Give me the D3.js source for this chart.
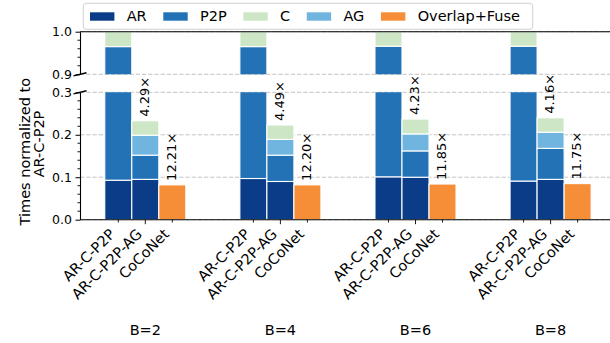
<!DOCTYPE html>
<html><head><meta charset="utf-8">
<script src="https://cdn.jsdelivr.net/npm/d3@7"></script>
<style>body{margin:0;background:#fff} text{font-family:"DejaVu Sans",sans-serif;fill:#000}</style>
</head><body><svg id="c" width="610" height="343"></svg>
<script>
// ---- data ----
const groups = ["B=2", "B=4", "B=6", "B=8"];
const methods = ["AR-C-P2P", "AR-C-P2P-AG", "CoCoNet"];
const legendKeys = ["AR", "P2P", "C", "AG", "Overlap+Fuse"];
const legendColors = ["#0b3c87", "#2272b5", "#cde7c6", "#6fb5df", "#f68e38"];
// AR-C-P2P (baseline) segments
const baseAR  = [0.093, 0.097, 0.101, 0.091];
const baseP2P = [0.872, 0.868, 0.865, 0.875];
const baseC   = [0.035, 0.035, 0.034, 0.034];
// AR-C-P2P-AG segments
const agAR  = [0.095, 0.090, 0.100, 0.095];
const agP2P = [0.057, 0.062, 0.062, 0.073];
const agAG  = [0.047, 0.037, 0.040, 0.038];
const agC   = [0.034, 0.034, 0.035, 0.034];
// CoCoNet
const cocoOF = [0.082, 0.082, 0.084, 0.085];
// speedup annotations
const speedAG   = [4.29, 4.49, 4.23, 4.16];
const speedCoco = [12.21, 12.20, 11.85, 11.75];
const yTicksBottom = [0.0, 0.1, 0.2, 0.3];
const yTicksTop = [0.9, 1.0];

const color = d3.scaleOrdinal().domain(legendKeys).range(legendColors);
const svg = d3.select("#c");

// ---- scales ----
const x = d3.scaleLinear().domain([0, 3]).range([145.3, 550.6]);
const off = 0.2;
const bw = x(0.2) - x(0);
const yB = d3.scaleLinear().domain([0, 0.3]).range([219.7, 92.3]);
const yT = d3.scaleLinear().domain([0.9, 1.0]).range([74.3, 31.7]);
const xL = 80, xR = 620;

// ---- stacks ----
const stacks = [];
groups.forEach((g, i) => {
  const defs = [
    [["AR", baseAR[i]], ["P2P", baseP2P[i]], ["C", baseC[i]]],
    [["AR", agAR[i]], ["P2P", agP2P[i]], ["AG", agAG[i]], ["C", agC[i]]],
    [["Overlap+Fuse", cocoOF[i]]]
  ];
  defs.forEach((segs, j) => {
    let acc = 0;
    segs.forEach(([k, v]) => {
      stacks.push({g: i, m: j, key: k, v0: acc, v1: acc + v});
      acc += v;
    });
  });
});

const defs = svg.append("defs");
defs.append("clipPath").attr("id", "clipB").append("rect")
  .attr("x", xL).attr("y", yB(0.3)).attr("width", xR - xL).attr("height", yB(0) - yB(0.3));
defs.append("clipPath").attr("id", "clipT").append("rect")
  .attr("x", xL).attr("y", yT(1.0)).attr("width", xR - xL).attr("height", yT(0.9) - yT(1.0));

function panel(y, clipId, ticks) {
  const gp = svg.append("g");
  // grid
  gp.selectAll("line.grid").data(ticks).join("line")
    .attr("x1", xL).attr("x2", xR).attr("y1", d => y(d)).attr("y2", d => y(d))
    .attr("stroke", "#c4c4c4").attr("stroke-width", 1).attr("stroke-dasharray", "4.3,1.9");
  const gb = gp.append("g").attr("clip-path", `url(#${clipId})`);
  gb.selectAll("rect").data(stacks).join("rect")
    .attr("x", d => x(d.g + (d.m - 1) * off) - bw / 2)
    .attr("width", bw)
    .attr("y", d => y(d.v1))
    .attr("height", d => Math.max(0, y(d.v0) - y(d.v1)))
    .attr("fill", d => color(d.key))
    .attr("stroke", "#fff").attr("stroke-width", 1.1);
  // y axis major
  const ax = gp.append("g").attr("transform", `translate(${xL},0)`)
    .call(d3.axisLeft(y).tickValues(ticks).tickFormat(d3.format(".1f")).tickSizeInner(4.5).tickSizeOuter(0).tickPadding(3.5));
  ax.select(".domain").attr("stroke", "#000").attr("stroke-width", 1.1);
  ax.selectAll("text").attr("font-size", 12.5).attr("font-family", "DejaVu Sans");
  // minor ticks
  const [d0, d1] = y.domain();
  const minors = d3.range(Math.round(d0 * 50), Math.round(d1 * 50) + 1).map(v => v / 50)
    .filter(v => !ticks.some(t => Math.abs(t - v) < 1e-6));
  gp.selectAll("line.minor").data(minors).join("line")
    .attr("x1", xL - 2.5).attr("x2", xL).attr("y1", d => y(d)).attr("y2", d => y(d))
    .attr("stroke", "#000").attr("stroke-width", 0.9);
  return gp;
}
panel(yB, "clipB", yTicksBottom);
panel(yT, "clipT", yTicksTop);

// top spine & bottom spine
svg.append("line").attr("x1", xL).attr("x2", xR).attr("y1", yT(1.0)).attr("y2", yT(1.0))
  .attr("stroke", "#000").attr("stroke-width", 1.1);
svg.append("line").attr("x1", xL).attr("x2", xR).attr("y1", yB(0)).attr("y2", yB(0))
  .attr("stroke", "#000").attr("stroke-width", 1.1);

// break marks
[yT(0.9), yB(0.3)].forEach(yy => {
  svg.append("line").attr("x1", xL - 6.5).attr("y1", yy + 1.6).attr("x2", xL + 6.5).attr("y2", yy - 1.6)
    .attr("stroke", "#000").attr("stroke-width", 1.4);
});

// x ticks
const xt = svg.append("g");
groups.forEach((g, i) => {
  methods.forEach((m, j) => {
    const tx = x(i + (j - 1) * off);
    xt.append("line").attr("x1", tx).attr("x2", tx).attr("y1", yB(0)).attr("y2", yB(0) + (j === 1 ? 4.5 : 2.8))
      .attr("stroke", "#000").attr("stroke-width", 0.9);
    xt.append("text").attr("text-anchor", "end").attr("font-size", 14.5)
      .attr("transform", `translate(${tx - 2.4},${235})rotate(-45)`).text(m);
  });
  xt.append("text").attr("text-anchor", "middle").attr("font-size", 14.5)
    .attr("x", x(i)).attr("y", 335).text(g);
});

// annotations
const ann = svg.append("g");
groups.forEach((g, i) => {
  const topAG = agAR[i] + agP2P[i] + agAG[i] + agC[i];
  ann.append("text").attr("font-size", 13)
    .attr("transform", `translate(${x(i) + 3.8},${yB(topAG) - 4})rotate(-90)`)
    .text(speedAG[i].toFixed(2) + "×");
  ann.append("text").attr("font-size", 13)
    .attr("transform", `translate(${x(i + off) + 3.8},${yB(cocoOF[i]) - 4})rotate(-90)`)
    .text(speedCoco[i].toFixed(2) + "×");
});

// y label
svg.append("text").attr("text-anchor", "middle").attr("font-size", 14.5)
  .attr("transform", "translate(30,151.7)rotate(-90)").text("Times normalized to");
svg.append("text").attr("text-anchor", "middle").attr("font-size", 14.5)
  .attr("transform", "translate(44,144)rotate(-90)").text("AR-C-P2P");

// legend
const lg = svg.append("g");
lg.append("rect").attr("x", 83.3).attr("y", 3.3).attr("width", 449.4).attr("height", 26)
  .attr("rx", 3).attr("fill", "#fff").attr("fill-opacity", 0.8).attr("stroke", "#d0d0d0").attr("stroke-width", 1);
let lx = 90;
legendKeys.forEach((k, i) => {
  lg.append("rect").attr("x", lx).attr("y", 12.3).attr("width", 24.4).attr("height", 8.4).attr("fill", color(k));
  const t = lg.append("text").attr("x", lx + 36.7).attr("y", 21.2).attr("font-size", 14.5).text(k);
  lx = lx + 36.7 + t.node().getComputedTextLength() + 16.6;
});
</script></body></html>
